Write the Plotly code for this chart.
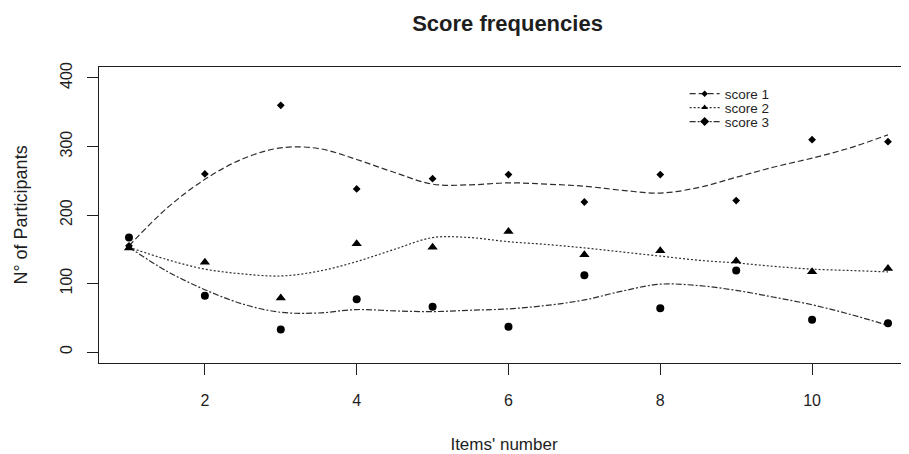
import plotly.graph_objects as go

items = [1, 2, 3, 4, 5, 6, 7, 8, 9, 10, 11]
score1 = [155, 260, 360, 238, 253, 259, 219, 259, 221, 310, 307]
score2 = [152, 131, 79, 158, 153, 176, 142, 148, 133, 117, 122]
score3 = [167, 82, 33, 77, 66, 37, 112, 64, 119, 47, 42]

curve_x = [1, 1.5, 2, 2.5, 3, 3.5, 4, 4.5, 5, 5.5, 6, 6.5, 7, 7.5, 8, 8.5, 9, 9.5, 10, 10.5, 11]
curve1 = [155, 210, 252, 282, 298, 297, 281, 262, 245, 244, 247, 245, 242, 236, 232, 240, 255, 270, 283, 298, 317]
curve2 = [153, 135, 121, 114, 111, 118, 132, 150, 167, 167, 161, 157, 152, 146, 140, 134, 130, 125, 121, 119, 117]
curve3 = [153, 118, 91, 70, 58, 57, 62, 60, 59, 61, 63, 68, 76, 89, 99, 97, 90, 80, 69, 55, 39]

names = ["score 1", "score 2", "score 3"]
x_ticks = [2, 4, 6, 8, 10]
y_ticks = [0, 100, 200, 300, 400]

INK = "#1e1e1e"
LINE = "#2e2e2e"
FONT = "Arial, Liberation Sans, sans-serif"

fig = go.Figure()

specs = [
    (score1, curve1, "diamond", 6, "6px,3px", "diamond", 5, "legend"),
    (score2, curve2, "triangle-up", 9, "2px,2px", "triangle-up", 6, "legend2"),
    (score3, curve3, "circle", 8, "6px,2px,2px,2px", "diamond", 7, "legend3"),
]

for name, (pts, curve, sym, size, dash, lsym, lsize, lg) in zip(names, specs):
    fig.add_trace(go.Scatter(
        x=curve_x, y=curve, mode="lines",
        line=dict(color=LINE, width=1.2, dash=dash, shape="spline", smoothing=1.0),
        showlegend=False, hoverinfo="skip"))

for name, (pts, curve, sym, size, dash, lsym, lsize, lg) in zip(names, specs):
    fig.add_trace(go.Scatter(
        x=items, y=pts, mode="markers", name=name,
        marker=dict(symbol=sym, size=size, color="black"),
        showlegend=False))

# legend entries (one legend per entry for compact R-like spacing)
for name, (pts, curve, sym, size, dash, lsym, lsize, lg) in zip(names, specs):
    fig.add_trace(go.Scatter(
        x=[None], y=[None], mode="lines+markers", name=name, legend=lg,
        line=dict(color=LINE, width=1.2, dash=dash),
        marker=dict(symbol=lsym, size=lsize, color="black")))

leg_common = dict(x=0.723, xanchor="left", yanchor="middle",
                  bgcolor="rgba(0,0,0,0)", font=dict(size=13.5, color=INK))

# page has an 8px body margin: figure is sized/offset to compensate
fig.update_layout(
    width=901, height=446,
    margin=dict(l=91, r=0, t=59, b=91),
    paper_bgcolor="white", plot_bgcolor="white",
    font=dict(family=FONT, color=INK, size=16),
    title=dict(text="<b>Score frequencies</b>", x=0.5544, xanchor="center",
               y=0.966, yanchor="middle", font=dict(size=22, color=INK)),
    showlegend=True,
    legend=dict(y=0.909, **leg_common),
    legend2=dict(y=0.862, **leg_common),
    legend3=dict(y=0.815, **leg_common),
)

fig.update_xaxes(
    range=[0.605, 11.277], tickvals=x_ticks, ticktext=[str(v) for v in x_ticks],
    showgrid=False, zeroline=False, showline=True, linecolor=INK, linewidth=1.2,
    mirror=True, ticks="outside", ticklen=11, tickcolor=INK, tickwidth=1.2,
    ticklabelstandoff=12, tickfont=dict(size=16), automargin=False,
    title=dict(text="Items' number", standoff=30, font=dict(size=17)))

fig.update_yaxes(
    range=[-16, 416], tickvals=y_ticks, ticktext=[str(v) for v in y_ticks],
    showgrid=False, zeroline=False, showline=True, linecolor=INK, linewidth=1.2,
    ticks="outside", ticklen=11, tickcolor=INK, tickwidth=1.2, tickangle=-90,
    ticklabelstandoff=9, tickfont=dict(size=16), automargin=False,
    title=dict(text="N° of Participants", standoff=25, font=dict(size=18)))

fig.write_html("out.html")
